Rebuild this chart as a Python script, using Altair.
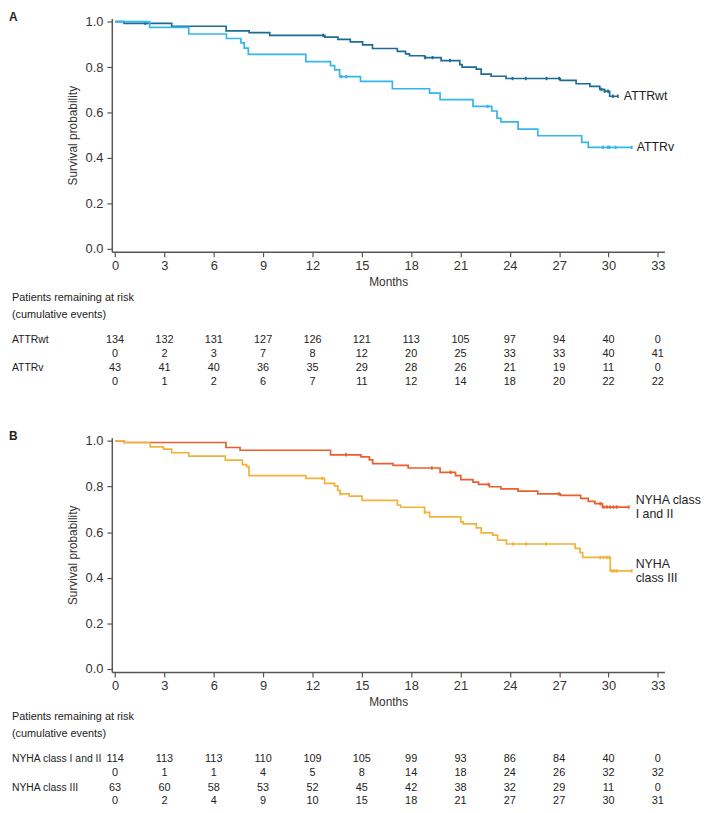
import altair as alt
import pandas as pd

FONT = "Liberation Sans, Arial, sans-serif"

# ---------------- Panel A data ----------------
wt_t = [0, 0.54, 3.44, 6.75, 8.15, 9.4, 12.75, 13.55, 14.3, 15.05, 15.65, 17.16, 17.66, 17.9, 18.82,
        19.82, 20.96, 21.1, 21.96, 22.26, 22.86, 23.77, 27.07, 28.03, 28.87, 29.47, 29.75, 30.07, 30.57]
wt_s = [1.0, 0.993, 0.98, 0.96, 0.952, 0.94, 0.932, 0.922, 0.911, 0.898, 0.882, 0.869, 0.858, 0.85, 0.842,
        0.829, 0.811, 0.80, 0.791, 0.769, 0.76, 0.75, 0.742, 0.727, 0.715, 0.702, 0.694, 0.672, 0.672]
wt_cens = [1.84, 12.65, 18.86, 19.3, 20.36, 24.16, 24.97, 26.23, 27.0, 29.57, 29.77, 29.97, 30.27, 30.57]

v_t = [0, 2.1, 4.48, 6.77, 7.65, 7.85, 8.1, 11.6, 13.1, 13.35, 13.65, 14.92, 16.86, 19.12, 19.76,
       21.76, 22.9, 23.22, 23.46, 24.5, 25.7, 28.37, 28.77, 31.41]
v_s = [1.0, 0.975, 0.946, 0.926, 0.907, 0.884, 0.856, 0.824, 0.807, 0.788, 0.758, 0.737, 0.705, 0.686, 0.657,
       0.627, 0.607, 0.575, 0.559, 0.527, 0.498, 0.469, 0.447, 0.447]
v_cens = [13.75, 14.05, 22.66, 29.67, 29.97, 30.07, 30.43, 31.41]

# ---------------- Panel B data ----------------
n12_t = [0, 0.54, 6.74, 7.6, 13.1, 14.95, 15.46, 15.66, 16.9, 17.82, 19.76, 20.7, 21.02, 21.76, 22.1,
         22.76, 23.46, 24.5, 25.7, 27.07, 28.31, 28.77, 29.17, 29.63, 31.23]
n12_s = [1.0, 0.993, 0.971, 0.959, 0.939, 0.93, 0.917, 0.90, 0.893, 0.881, 0.862, 0.848, 0.83, 0.819, 0.809,
         0.799, 0.79, 0.78, 0.768, 0.761, 0.748, 0.735, 0.725, 0.71, 0.71]
n12_cens = [14.04, 19.26, 20.4, 22.7, 26.97, 29.5, 29.7, 29.9, 30.1, 30.3, 30.5, 31.23]

n3_t = [0, 0.54, 2.14, 2.94, 3.44, 4.48, 6.7, 7.74, 8.0, 8.14, 11.6, 12.74, 13.34, 13.54, 13.68, 14.24,
        15.02, 17.16, 17.36, 18.82, 19.12, 21.02, 21.16, 21.96, 22.26, 22.96, 23.26, 23.8, 27.97, 28.27,
        28.43, 30.11, 31.41]
n3_s = [1.0, 0.993, 0.974, 0.964, 0.948, 0.933, 0.916, 0.896, 0.887, 0.848, 0.836, 0.814, 0.803, 0.783,
        0.768, 0.758, 0.739, 0.719, 0.709, 0.687, 0.667, 0.645, 0.636, 0.619, 0.597, 0.587, 0.565, 0.548,
        0.529, 0.51, 0.489, 0.43, 0.43]
n3_cens = [12.6, 13.7, 18.82, 24.2, 25.0, 26.2, 29.5, 29.7, 29.9, 30.05, 30.2, 30.35, 30.5, 31.41]

# ---------------- Risk tables ----------------
months = list(range(0, 34, 3))
wt_risk = [134, 132, 131, 127, 126, 121, 113, 105, 97, 94, 40, 0]
wt_events = [0, 2, 3, 7, 8, 12, 20, 25, 33, 33, 40, 41]
v_risk = [43, 41, 40, 36, 35, 29, 28, 26, 21, 19, 11, 0]
v_events = [0, 1, 2, 6, 7, 11, 12, 14, 18, 20, 22, 22]
n12_risk = [114, 113, 113, 110, 109, 105, 99, 93, 86, 84, 40, 0]
n12_events = [0, 1, 1, 4, 5, 8, 14, 18, 24, 26, 32, 32]
n3_risk = [63, 60, 58, 53, 52, 45, 42, 38, 32, 29, 11, 0]
n3_events = [0, 2, 4, 9, 10, 15, 18, 21, 27, 27, 30, 31]

groups = ["ATTRwt", "ATTRv", "NYHA class I and II", "NYHA class III"]
colors = ["#1b6d98", "#35b6ea", "#ea5f2e", "#f1b23c"]
end_labels = [["ATTRwt"], ["ATTRv"], ["NYHA class", "I and II"], ["NYHA", "class III"]]
label_dx = [6, 5, 7, 4]

color_enc = alt.Color("grp:N", scale=alt.Scale(domain=groups, range=colors), legend=None)


def step_value(t, s, x):
    val = s[0]
    for ti, si in zip(t, s):
        if ti <= x:
            val = si
    return val


def curve_df(name, t, s):
    return pd.DataFrame({"t": t, "s": s, "grp": name})


def cens_df(name, t, s, ct):
    return pd.DataFrame({"t": ct, "s": [step_value(t, s, c) for c in ct], "grp": name})


PLOT_H_A = 236
OFF = 424  # vertical offset of panel B


def axes(panel):
    if panel == "A":
        yr = [PLOT_H_A, 0]
        xoff = -(661 - PLOT_H_A)
    else:
        yr = [PLOT_H_A + OFF + 1, OFF]
        xoff = 0
    x = alt.X("t:Q",
              scale=alt.Scale(domain=[-0.2, 33.4], nice=False, zero=False),
              axis=alt.Axis(values=months, title="Months", orient="bottom", offset=xoff,
                            grid=False, tickSize=5, labelPadding=3, titlePadding=4,
                            labelFontSize=13, titleFontSize=12, labelFlush=False))
    y = alt.Y("s:Q",
              scale=alt.Scale(domain=[-0.013, 1.014], nice=False, zero=False, range=yr),
              axis=alt.Axis(values=[0, 0.2, 0.4, 0.6, 0.8, 1.0], format=".1f",
                            title="Survival probability", orient="left", grid=False,
                            tickSize=5, labelPadding=4, titlePadding=6,
                            labelFontSize=13, titleFontSize=12))
    return x, y


def panel(letter, specs, table_rows, base):
    x, y = axes(letter)
    layers = []
    for name, t, s, ct in specs:
        layers.append(alt.Chart(curve_df(name, t, s)).mark_line(
            interpolate="step-after", strokeWidth=1.7).encode(x=x, y=y, color=color_enc))
        layers.append(alt.Chart(cens_df(name, t, s, ct)).mark_point(
            shape="M0,-1L0,1", size=12, filled=False, strokeWidth=1.8, opacity=1).encode(
            x=x, y=y, color=color_enc))
        gi = groups.index(name)
        lines = end_labels[gi]
        n = len(lines)
        for li, txt in enumerate(lines):
            lab = pd.DataFrame({"t": [t[-1]], "s": [s[-1]], "lab": [txt]})
            dy = (li - (n - 1) / 2) * 14
            layers.append(alt.Chart(lab).mark_text(
                align="left", baseline="middle", dx=label_dx[gi], dy=dy, fontSize=12.5, font=FONT,
                color="#222").encode(x=x, y=y, text="lab:N"))
    # panel letter
    layers.append(alt.Chart(pd.DataFrame({"lab": [letter]})).mark_text(
        align="left", baseline="middle", fontSize=12, fontWeight="bold", font=FONT,
        color="#222").encode(x=alt.value(-104), y=alt.value(base - 2), text="lab:N"))
    # risk table header
    hdr = pd.DataFrame({"lab": ["Patients remaining at risk", "(cumulative events)"]})
    for i, ypos in enumerate([base + 283, base + 300]):
        layers.append(alt.Chart(hdr.iloc[[i]]).mark_text(
            align="left", baseline="middle", fontSize=11, font=FONT, color="#222").encode(
            x=alt.value(-101), y=alt.value(ypos), text="lab:N"))
    row_y = [base + 325, base + 339, base + 354, base + 368]
    k = 0
    for name, vals in table_rows:
        if name is not None:
            layers.append(alt.Chart(pd.DataFrame({"lab": [name]})).mark_text(
                align="left", baseline="middle", fontSize=10.5, font=FONT, color="#222").encode(
                x=alt.value(-101), y=alt.value(row_y[k]), text="lab:N"))
        df = pd.DataFrame({"t": months, "val": [str(v) for v in vals]})
        layers.append(alt.Chart(df).mark_text(
            align="center", baseline="middle", fontSize=11, font=FONT, color="#222").encode(
            x=x, y=alt.value(row_y[k]), text="val:N"))
        k += 1
    return alt.layer(*layers)


panelA = panel("A",
               [("ATTRwt", wt_t, wt_s, wt_cens), ("ATTRv", v_t, v_s, v_cens)],
               [("ATTRwt", wt_risk), (None, wt_events), ("ATTRv", v_risk), (None, v_events)],
               0)
panelB = panel("B",
               [("NYHA class I and II", n12_t, n12_s, n12_cens), ("NYHA class III", n3_t, n3_s, n3_cens)],
               [("NYHA class I and II", n12_risk), (None, n12_events), ("NYHA class III", n3_risk), (None, n3_events)],
               OFF)

chart = alt.layer(panelA, panelB).resolve_scale(
    x="independent", y="independent", color="shared"
).properties(
    width=559, height=661,
    padding={"left": 105, "top": 6, "right": 37, "bottom": 138},
    autosize=alt.AutoSizeParams(type="none"),
).configure(
    font=FONT,
).configure_view(
    stroke=None
).configure_axis(
    labelFont=FONT, titleFont=FONT, labelColor="#333", titleColor="#333",
    domainColor="#555", tickColor="#555", domainWidth=1.5, tickWidth=1.2,
    titleFontWeight="normal"
)

chart.save("out.html", embed_options={"renderer": "svg", "actions": False})
